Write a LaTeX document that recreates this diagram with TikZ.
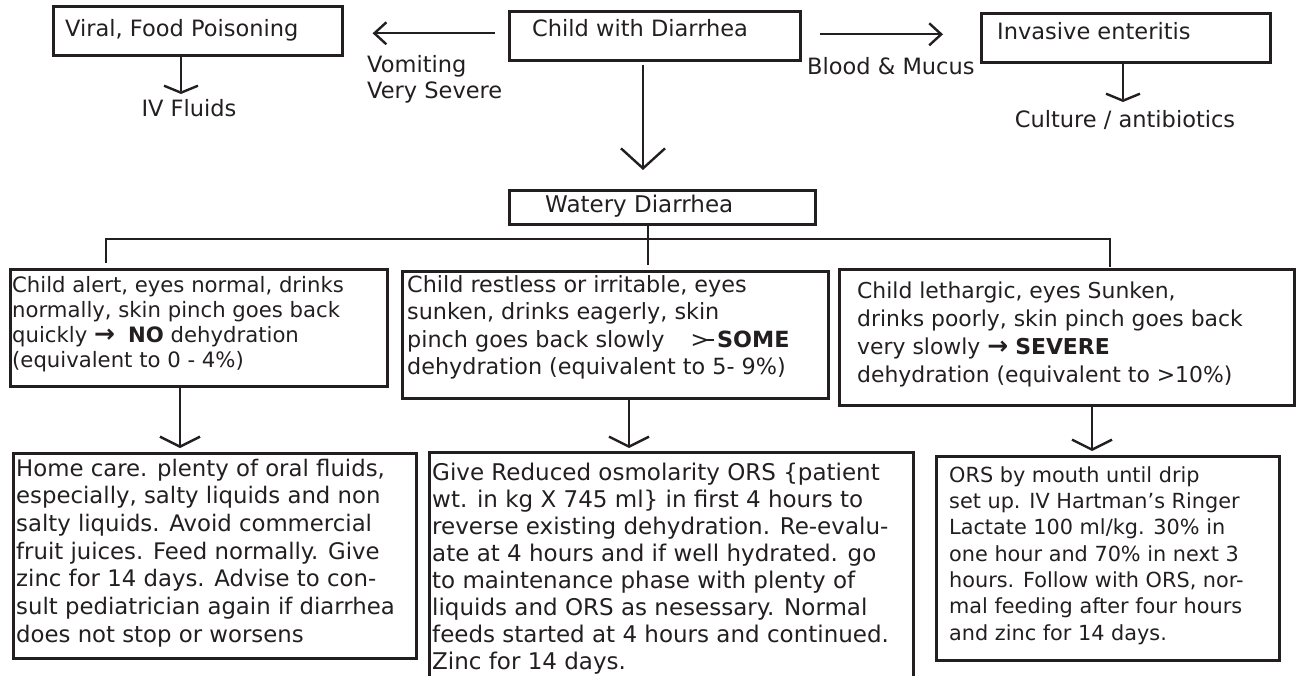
\documentclass[tikz,border=0pt]{standalone}
\usepackage{fontspec}
\setmainfont{DejaVu Sans}
\usetikzlibrary{arrows.meta}
\definecolor{ink}{HTML}{231F20}
\newcommand\tailarr{>\kern-0.2em\rule[0.275em]{0.4em}{0.09em}\kern0.15em}
\newcommand\barr{{\fontsize{25}{25}\selectfont\textbf{→}}}
\tikzset{
  box/.style={draw=ink, line width=2.6pt, anchor=north west, inner sep=0pt},
  conn/.style={draw=ink, line width=2.4pt},
  txt/.style={text=ink, inner sep=0pt, align=left},
  smallhead/.style={-{Straight Barb[length=7pt,width=34pt]}},
  hhead/.style={-{Straight Barb[length=12pt,width=22pt]}},
  bighead/.style={-{Straight Barb[length=20pt,width=44pt]}},
  medhead/.style={-{Straight Barb[length=10pt,width=40pt]}},
  f/.style={font=\fontsize{22.5}{26}\selectfont}
}
\begin{document}
\begin{tikzpicture}[x=1pt,y=-1pt]
\useasboundingbox (0,0) rectangle (1296,676);
\clip (0,0) rectangle (1296,676);

% boxes
\node[box, minimum width=289pt, minimum height=49pt] (viral) at (52,5) {};
\node[box, minimum width=291pt, minimum height=49pt] (child) at (508,10) {};
\node[box, minimum width=289pt, minimum height=49pt] (inv) at (980,12) {};
\node[box, minimum width=306pt, minimum height=34pt] (watery) at (508,189) {};
\node[box, minimum width=377pt, minimum height=117pt] (b1) at (9,268) {};
\node[box, minimum width=426pt, minimum height=127pt] (b2) at (401,270) {};
\node[box, minimum width=455pt, minimum height=136pt] (b3) at (838,268) {};
\node[box, minimum width=403pt, minimum height=205pt] (c1) at (12,452) {};
\node[box, minimum width=484pt, minimum height=260pt] (c2) at (428,451) {};
\node[box, minimum width=343pt, minimum height=204pt] (c3) at (935,455) {};

% texts
\node[txt, f, anchor=base west] (viralt) at (65,37) {Viral, Food Poisoning};
\node[txt, f, anchor=base] (ivt) at (189,117) {IV Fluids};
\node[txt, f, anchor=north west] (vomt) at (367,53.8) {\strut Vomiting\\Very Severe};
\node[txt, f, anchor=base west] (childt) at (532,37) {Child with Diarrhea};
\node[txt, f, anchor=base west] (bloodt) at (807,75) {Blood \& Mucus};
\node[txt, f, anchor=base west] (invt) at (997,40) {Invasive enteritis};
\node[txt, f, anchor=base] (cult) at (1125,128) {Culture / antibiotics};
\node[txt, font=\fontsize{23}{26}\selectfont, anchor=base west] (wateryt) at (545,213) {Watery Diarrhea};

\node[txt, font=\fontsize{21.2}{25}\selectfont, anchor=north west] (b1t) at (12,274.5)
 {\strut Child alert, eyes normal, drinks\\
  normally, skin pinch goes back\\
  quickly \barr\hspace{0.3em} \textbf{NO} dehydration\\
  (equivalent to 0 - 4\%)};
\node[txt, font=\fontsize{22.3}{27.5}\selectfont, anchor=north west] (b2t) at (407,272.75)
 {\strut Child restless or irritable, eyes\\
  sunken, drinks eagerly, skin\\
  pinch goes back slowly\hspace{1.17em}\tailarr\textbf{SOME}\\
  dehydration (equivalent to 5- 9\%)};
\node[txt, font=\fontsize{21.9}{28}\selectfont, anchor=north west] (b3t) at (857,278.4)
 {\strut Child lethargic, eyes Sunken,\\
  drinks poorly, skin pinch goes back\\
  very slowly \barr\ \textbf{SEVERE}\\
  dehydration (equivalent to >10\%)};

\node[txt, font=\fontsize{22.8}{27.7}\selectfont, anchor=north west] (c1t) at (16,456.6)
 {\strut Home care. plenty of oral fluids,\\
  especially, salty liquids and non\\
  salty liquids. Avoid commercial\\
  fruit juices. Feed normally. Give\\
  zinc for 14 days. Advise to con-\\
  sult pediatrician again if diarrhea\\
  does not stop or worsens};
\node[txt, font=\fontsize{23}{27.1}\selectfont, anchor=north west] (c2t) at (432,461)
 {\strut Give Reduced osmolarity ORS \{patient\\
  wt. in kg X 745 ml\} in first 4 hours to\\
  reverse existing dehydration. Re-evalu-\\
  ate at 4 hours and if well hydrated. go\\
  to maintenance phase with plenty of\\
  liquids and ORS as nesessary. Normal\\
  feeds started at 4 hours and continued.\\
  Zinc for 14 days.};
\node[txt, font=\fontsize{20.8}{26.3}\selectfont, anchor=north west] (c3t) at (949,463.6)
 {\strut ORS by mouth until drip\\
  set up. IV Hartman’s Ringer\\
  Lactate 100 ml/kg. 30\% in\\
  one hour and 70\% in next 3\\
  hours. Follow with ORS, nor-\\
  mal feeding after four hours\\
  and zinc for 14 days.};

% connectors
\draw[conn, hhead, shorten <=13pt, shorten >=29pt] ([yshift=2.5pt]child.west) -- ([yshift=2.5pt]child.west -| viral.east);
\draw[conn, hhead, shorten <=18pt, shorten >=37pt] ([yshift=1.5pt]child.east) -- ([yshift=1.5pt]child.east -| inv.west);
\coordinate (ivtip) at (181,94);
\draw[conn, smallhead] (viral.south -| ivtip) -- (ivtip);
\coordinate (cultip) at (1123,102);
\draw[conn, smallhead] (inv.south -| cultip) -- (cultip);
\coordinate (mainx) at (643,0);
\draw[conn, bighead, shorten <=3pt, shorten >=19pt] (child.south -| mainx) -- (watery.north -| mainx);
\coordinate (wx) at (648,0);
\draw[conn, shorten >=5pt] (watery.south -| wx) -- (b2.north -| wx);
\coordinate (busL) at (106,239);
\coordinate (busR) at (1110,239);
\draw[conn, shorten <=5pt, shorten >=1pt] (b1.north -| busL) -- (busL) -- (busR) -- (b3.north -| busR);
\coordinate (d1) at (180,0);
\coordinate (d2) at (629,0);
\coordinate (d3) at (1092,0);
\draw[conn, medhead, shorten >=4pt] (b1.south -| d1) -- (c1.north -| d1);
\draw[conn, medhead, shorten >=3pt] (b2.south -| d2) -- (c2.north -| d2);
\draw[conn, medhead, shorten >=4pt] (b3.south -| d3) -- (c3.north -| d3);
\end{tikzpicture}
\end{document}
